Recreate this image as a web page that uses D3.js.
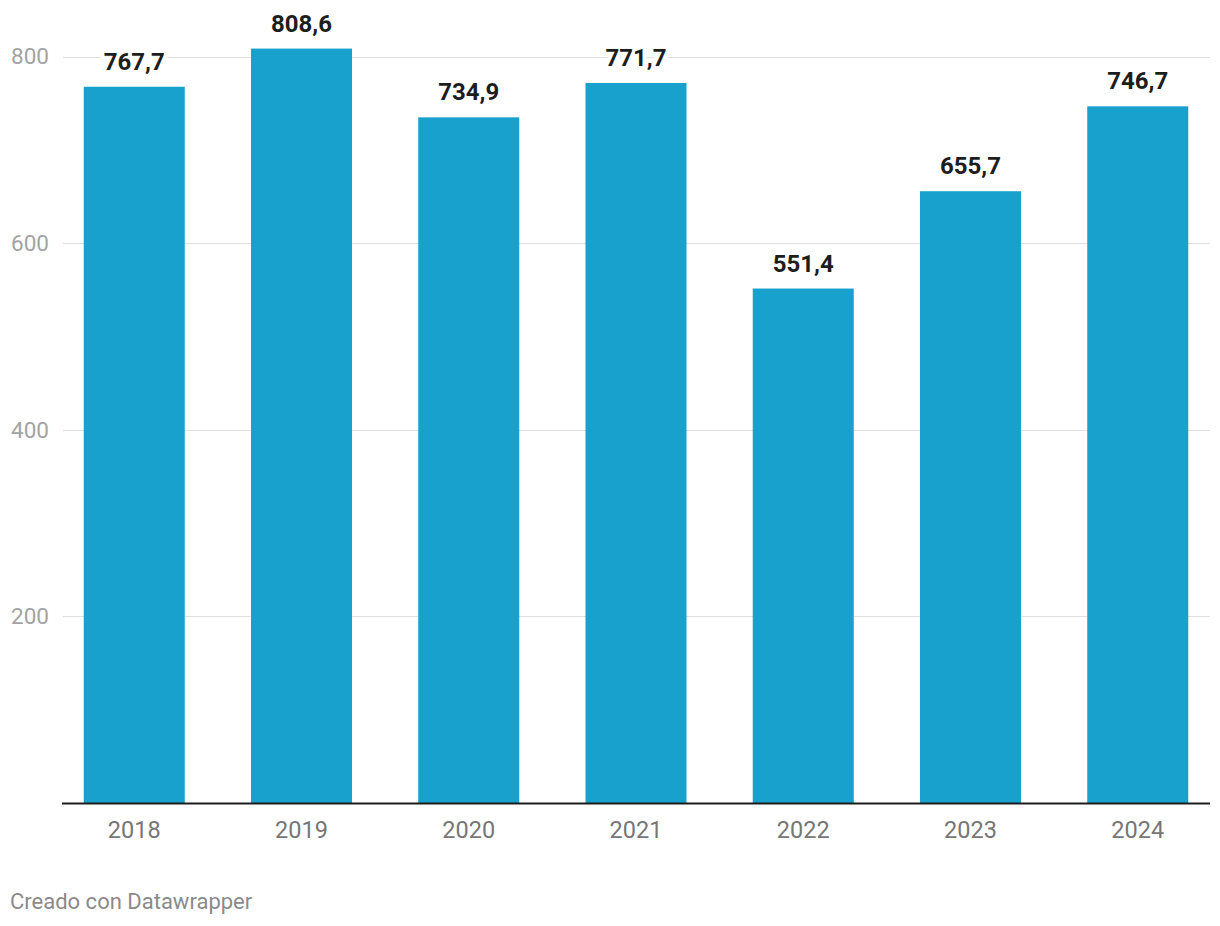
<!DOCTYPE html>
<html><head><meta charset="utf-8">
<script src="https://cdn.jsdelivr.net/npm/d3@7"></script>
<style>body{margin:0;background:#fff;font-family:Roboto,sans-serif;}</style>
</head><body>
<svg id="c" width="1220" height="926"></svg>
<script>
const years = ["2018","2019","2020","2021","2022","2023","2024"];
const values = [767.7, 808.6, 734.9, 771.7, 551.4, 655.7, 746.7];
const yTicks = [200, 400, 600, 800];
const credit = "Creado con Datawrapper";

(function(){
const svg = d3.select("#c");
const left = 62, right = 1210, baseline = 803;
const y = d3.scaleLinear().domain([0, 800]).range([baseline, 56.6]);
const x = d3.scaleBand().domain(years).range([left, right]).paddingInner(0.396).paddingOuter(0.13);
const fmt = v => d3.format(".1f")(v).replace(".", ",");

// grid
svg.append("g").selectAll("line").data(yTicks).join("line")
  .attr("x1", left+1).attr("x2", right).attr("y1", d => Math.round(y(d))+0.5).attr("y2", d => Math.round(y(d))+0.5)
  .attr("stroke", "#e0e0e0").attr("stroke-width", 1);
svg.append("g").selectAll("text").data(yTicks).join("text")
  .attr("x", 11).attr("y", d => y(d)).attr("dy", "0.35em")
  .attr("font-size", 22.5).attr("fill", "#a3a3a3").text(d => d);

// bars
svg.append("g").selectAll("rect").data(values).join("rect")
  .attr("x", (d,i) => x(years[i])).attr("width", x.bandwidth())
  .attr("y", d => y(d)).attr("height", d => baseline - y(d))
  .attr("fill", "#18a1cd");

// value labels: halo then text
[true, false].forEach(isHalo => {
  const g = svg.append("g").selectAll("text").data(values).join("text")
    .attr("x", (d,i) => x(years[i]) + x.bandwidth()/2).attr("y", d => y(d) - 17)
    .attr("text-anchor", "middle").attr("font-size", 24).attr("font-weight", 700)
    .attr("fill", isHalo ? "#fff" : "#1d1d1d").text(d => fmt(d));
  if (isHalo) g.attr("stroke", "#fff").attr("stroke-width", 8).attr("stroke-linejoin", "round");
});

// baseline axis
svg.append("line").attr("x1", left).attr("x2", right).attr("y1", baseline+0.5).attr("y2", baseline+0.5)
  .attr("stroke", "#1d1d1d").attr("stroke-width", 2);

// x labels
svg.append("g").selectAll("text").data(years).join("text")
  .attr("x", d => x(d) + x.bandwidth()/2).attr("y", 838)
  .attr("text-anchor", "middle").attr("font-size", 23.5).attr("fill", "#767676").text(d => d);

svg.append("text").attr("x", 10).attr("y", 909).attr("font-size", 22).attr("fill", "#8a8a8a").text(credit);
})();
</script>
</body></html>
